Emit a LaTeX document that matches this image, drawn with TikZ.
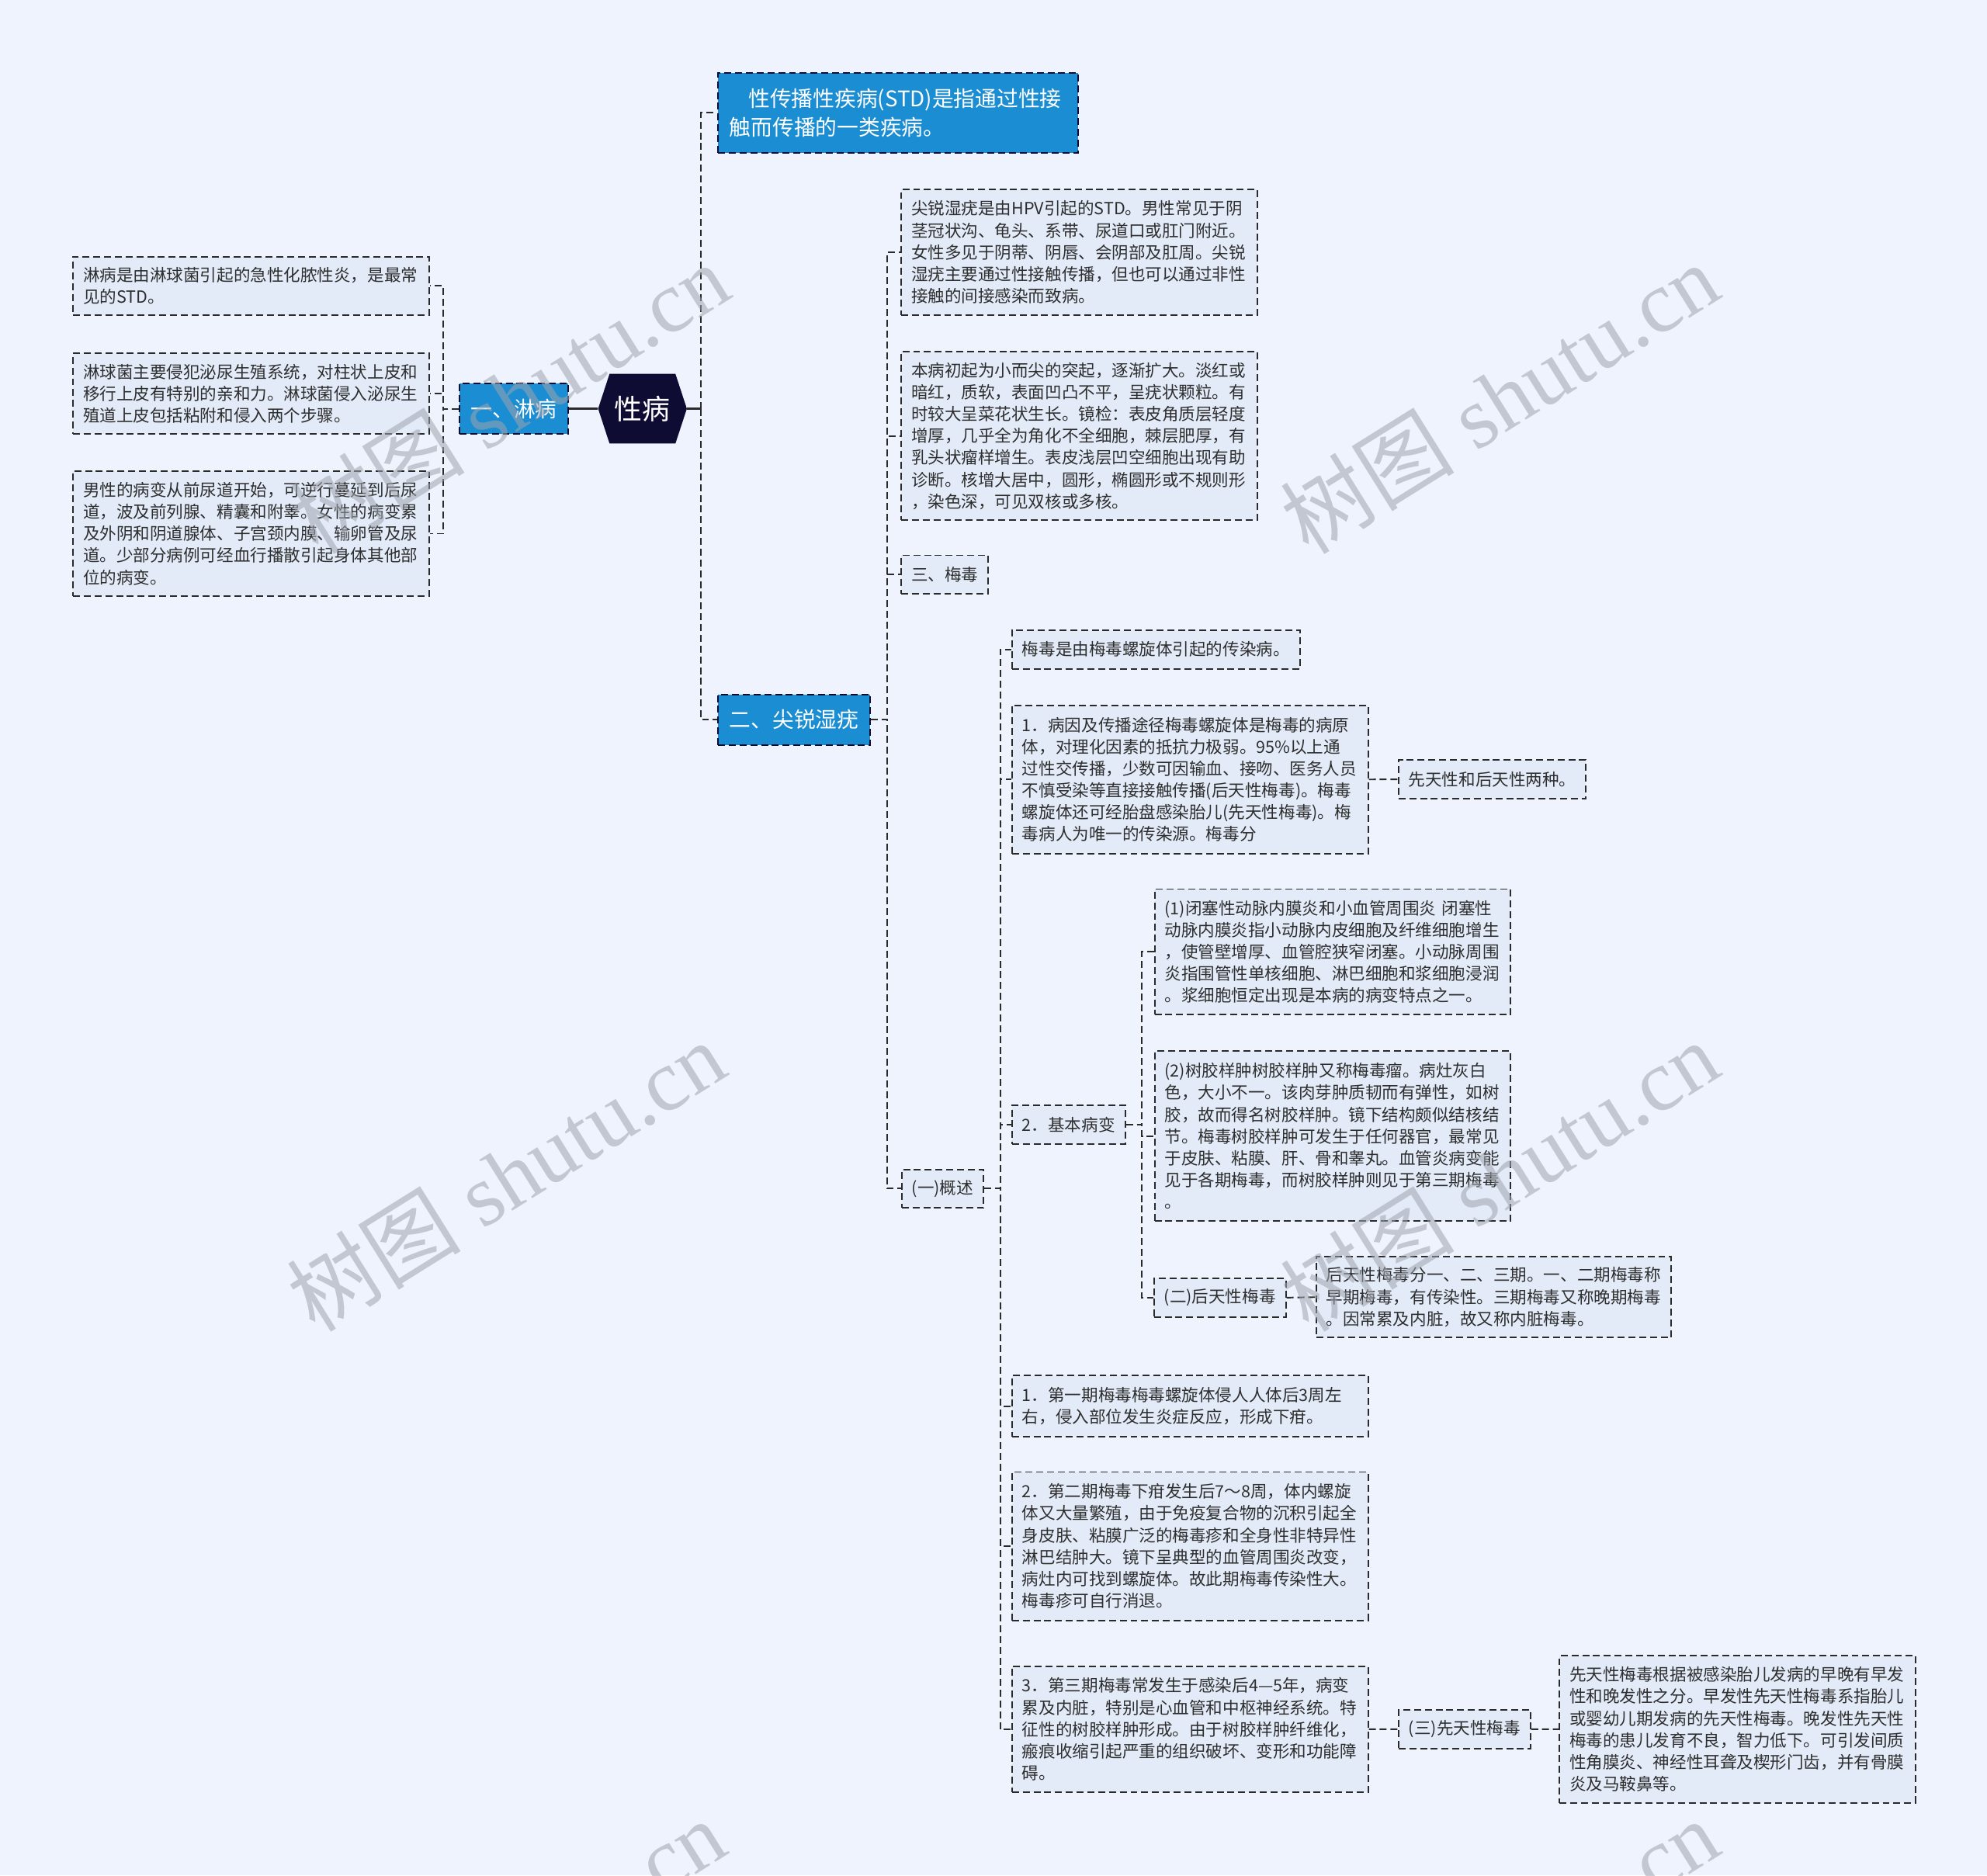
\documentclass[tikz,border=0pt]{standalone}
\usepackage{fontspec}
\newfontfamily\cjk{Noto Sans CJK SC}
\newfontfamily\wmlat{Liberation Serif}
\usetikzlibrary{calc}
\definecolor{bgc}{HTML}{EEF3FD}
\definecolor{leafc}{HTML}{E3EBF9}
\definecolor{bluec}{HTML}{1B8DD2}
\definecolor{navyc}{HTML}{0E0C33}
\definecolor{linec}{HTML}{2A2A2A}
\definecolor{textc}{HTML}{2E2E2E}
\definecolor{wmc}{HTML}{A0A4AE}
\begin{document}
\begin{tikzpicture}[x=1pt,y=-1pt,
  conn/.style={draw=linec, line width=1.2pt, dash pattern=on 5.5pt off 3pt},
  solidconn/.style={draw=linec, line width=2pt},
  box/.style={draw=linec, line width=1.2pt, dash pattern=on 5.5pt off 3pt, fill=leafc,
    font=\cjk\fontsize{13.2pt}{17.25pt}\selectfont, text=textc, align=left,
    inner xsep=8pt, inner ysep=0pt},
  leaf/.style={box, anchor=north west, text width=#1},
  tag/.style={box, anchor=west, minimum height=30.5pt},
  bluebox/.style={draw=navyc, line width=1.2pt, dash pattern=on 5.5pt off 3pt, fill=bluec,
    text=white, font=\cjk\fontsize{17pt}{23pt}\selectfont, inner xsep=9pt, inner ysep=0pt, align=left},
  rootnode/.style={minimum width=70pt, minimum height=55pt, inner sep=0pt, fill=bgc,
    text=white, font=\cjk\fontsize{22pt}{26pt}\selectfont,
    path picture={\fill[navyc] (path picture bounding box.west)
      -- ([xshift=9pt]path picture bounding box.north west)
      -- ([xshift=-9pt]path picture bounding box.north east)
      -- (path picture bounding box.east)
      -- ([xshift=-9pt]path picture bounding box.south east)
      -- ([xshift=9pt]path picture bounding box.south west) -- cycle;}},
  wm/.style={text=wmc, opacity=0.55, rotate=32, inner sep=0pt}
]
\fill[bgc] (0,0) rectangle (1568,1480);
\useasboundingbox (0,0) rectangle (1568,1480);

% root and left branch
\node[rootnode] (root) at (507,322.5) {性病};
\node[bluebox, anchor=west, minimum height=40pt, minimum width=86pt] (lb) at (362,322.5) {一、淋病};
\node[leaf=265pt, minimum height=46pt] (L1) at (57,202) {淋病是由淋球菌引起的急性化脓性炎，是最常\\见的STD。};
\node[leaf=265pt, minimum height=64pt] (L2) at (57,278) {淋球菌主要侵犯泌尿生殖系统，对柱状上皮和\\移行上皮有特别的亲和力。淋球菌侵入泌尿生\\殖道上皮包括粘附和侵入两个步骤。};
\node[leaf=265pt, minimum height=99pt] (L3) at (57,371) {男性的病变从前尿道开始，可逆行蔓延到后尿\\道，波及前列腺、精囊和附睾。女性的病变累\\及外阴和阴道腺体、子宫颈内膜、输卵管及尿\\道。少部分病例可经血行播散引起身体其他部\\位的病变。};

% right main branch
\node[bluebox, anchor=north west, text width=266pt, minimum height=63pt] (std) at (566,57) {\hspace*{15pt}性传播性疾病(STD)是指通过性接\\触而传播的一类疾病。};
\node[bluebox, anchor=west, minimum height=40pt, minimum width=120pt] (jr) at (566,568) {二、尖锐湿疣};
\coordinate (rj) at (553,322.5);

\node[leaf=265pt, minimum height=99pt] (R1) at (710.5,149) {尖锐湿疣是由HPV引起的STD。男性常见于阴\\茎冠状沟、龟头、系带、尿道口或肛门附近。\\女性多见于阴蒂、阴唇、会阴部及肛周。尖锐\\湿疣主要通过性接触传播，但也可以通过非性\\接触的间接感染而致病。};
\node[leaf=265pt, minimum height=133pt] (R2) at (710.5,277) {本病初起为小而尖的突起，逐渐扩大。淡红或\\暗红，质软，表面凹凸不平，呈疣状颗粒。有\\时较大呈菜花状生长。镜检：表皮角质层轻度\\增厚，几乎全为角化不全细胞，棘层肥厚，有\\乳头状瘤样增生。表皮浅层凹空细胞出现有助\\诊断。核增大居中，圆形，椭圆形或不规则形\\，染色深，可见双核或多核。};
\node[tag] (mk) at (710.5,453.5) {三、梅毒};
\node[tag] (gs) at (711,938) {(一)概述};

% syphilis overview
\node[tag] (S1) at (798,512.5) {梅毒是由梅毒螺旋体引起的传染病。};
\node[leaf=265pt, minimum height=117pt] (S2) at (798,556) {1．病因及传播途径梅毒螺旋体是梅毒的病原\\体，对理化因素的抵抗力极弱。95\%以上通\\过性交传播，少数可因输血、接吻、医务人员\\不慎受染等直接接触传播(后天性梅毒)。梅毒\\螺旋体还可经胎盘感染胎儿(先天性梅毒)。梅\\毒病人为唯一的传染源。梅毒分};
\node[tag] (xt) at (1103,615) {先天性和后天性两种。};
\node[tag] (jb) at (798,887.5) {2．基本病变};
\node[leaf=265pt, minimum height=99pt] (B1) at (910.5,701) {(1)闭塞性动脉内膜炎和小血管周围炎~闭塞性\\动脉内膜炎指小动脉内皮细胞及纤维细胞增生\\，使管壁增厚、血管腔狭窄闭塞。小动脉周围\\炎指围管性单核细胞、淋巴细胞和浆细胞浸润\\。浆细胞恒定出现是本病的病变特点之一。};
\node[leaf=265pt, minimum height=134pt] (B2) at (910.5,829) {(2)树胶样肿树胶样肿又称梅毒瘤。病灶灰白\\色，大小不一。该肉芽肿质韧而有弹性，如树\\胶，故而得名树胶样肿。镜下结构颇似结核结\\节。梅毒树胶样肿可发生于任何器官，最常见\\于皮肤、粘膜、肝、骨和睾丸。血管炎病变能\\见于各期梅毒，而树胶样肿则见于第三期梅毒\\。};
\node[tag] (ht) at (910,1024) {(二)后天性梅毒};
\node[leaf=264pt, minimum height=64pt] (A1) at (1038,991) {后天性梅毒分一、二、三期。一、二期梅毒称\\早期梅毒，有传染性。三期梅毒又称晚期梅毒\\。因常累及内脏，故又称内脏梅毒。};
\node[leaf=265pt, minimum height=48pt] (P1) at (798,1085) {1．第一期梅毒梅毒螺旋体侵人人体后3周左\\右，侵入部位发生炎症反应，形成下疳。};
\node[leaf=265pt, minimum height=117pt] (P2) at (798,1161) {2．第二期梅毒下疳发生后7～8周，体内螺旋\\体又大量繁殖，由于免疫复合物的沉积引起全\\身皮肤、粘膜广泛的梅毒疹和全身性非特异性\\淋巴结肿大。镜下呈典型的血管周围炎改变，\\病灶内可找到螺旋体。故此期梅毒传染性大。\\梅毒疹可自行消退。};
\node[leaf=265pt, minimum height=99pt] (P3) at (798,1314.5) {3．第三期梅毒常发生于感染后4—5年，病变\\累及内脏，特别是心血管和中枢神经系统。特\\征性的树胶样肿形成。由于树胶样肿纤维化，\\瘢痕收缩引起严重的组织破坏、变形和功能障\\碍。};
\node[tag] (xts) at (1103,1364.5) {(三)先天性梅毒};
\node[leaf=265pt, minimum height=116pt] (C1) at (1230,1306) {先天性梅毒根据被感染胎儿发病的早晚有早发\\性和晚发性之分。早发性先天性梅毒系指胎儿\\或婴幼儿期发病的先天性梅毒。晚发性先天性\\梅毒的患儿发育不良，智力低下。可引发间质\\性角膜炎、神经性耳聋及楔形门齿，并有骨膜\\炎及马鞍鼻等。};

% connectors
\draw[solidconn] (root.west) -- (lb.east);
\foreach \c in {L1,L2,L3} \draw[conn] (lb.west) -- ++(-12.5,0) |- (\c.east);
\draw[solidconn] (root.east) -- (rj);
\draw[conn] (rj) |- (std.west);
\draw[conn] (rj) |- (jr.west);
\foreach \c in {R1,R2,mk,gs} \draw[conn] (jr.east) -- ++(13,0) |- (\c.west);
\foreach \c in {S1,S2,jb,P1,P2,P3} \draw[conn] (gs.east) -- ++(12.5,0) |- (\c.west);
\draw[conn] (S2.east) -- (xt.west);
\foreach \c in {B1,B2,ht} \draw[conn] (jb.east) -- ++(12.5,0) |- (\c.west);
\draw[conn] (ht.east) -- (A1.west);
\draw[conn] (P3.east) -- (xts.west);
\draw[conn] (xts.east) -- (C1.west);

% watermarks
\foreach \p/\n in {{(402,314)}/w1,{(1183,314)}/w2,{(399,928)}/w3,{(1183,928)}/w4,{(399,1542)}/w5,{(1183,1542)}/w6}
  \node[wm] (\n) at \p {\cjk\fontsize{69pt}{69pt}\selectfont 树图\wmlat\ shutu.cn};
\end{tikzpicture}
\end{document}
